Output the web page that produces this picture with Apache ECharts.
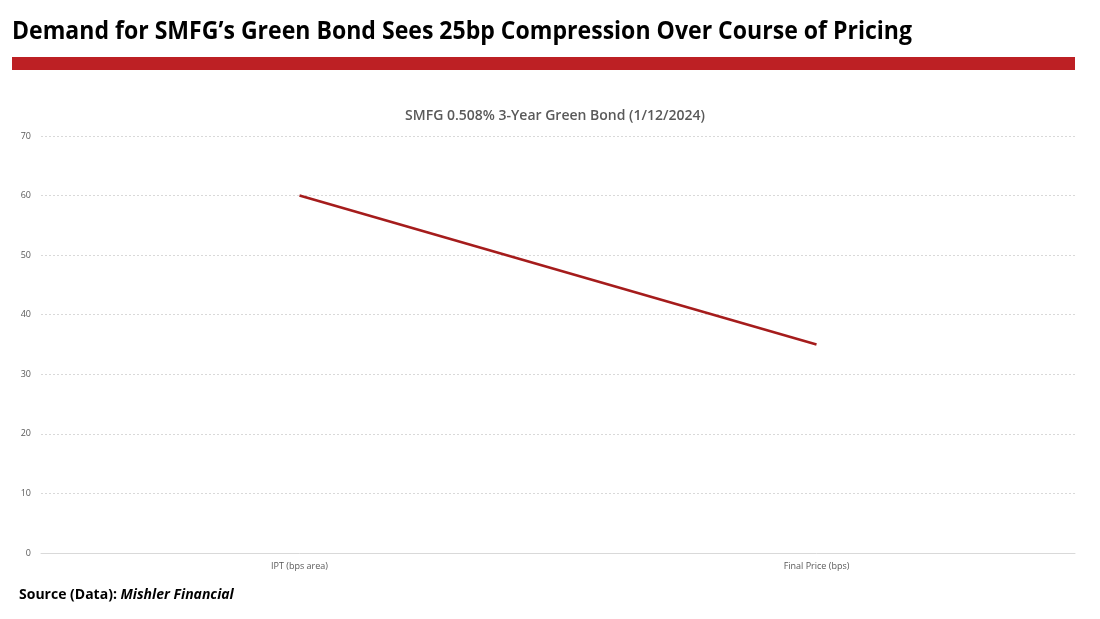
<!DOCTYPE html>
<html>
<head>
<meta charset="utf-8">
<script src="https://cdn.jsdelivr.net/npm/echarts@6/dist/echarts.min.js"></script>
<style>
html, body { margin: 0; padding: 0; background: #fff; }
#chart { width: 1100px; height: 619px; }
</style>
</head>
<body>
<div id="chart"></div>
<script>
// 数据
var categories = ['IPT (bps area)', 'Final Price (bps)'];
var spreadValues = [60, 35];
var yTicks = [0, 10, 20, 30, 40, 50, 60, 70];

(function () {
	var myChart = echarts.init(document.getElementById('chart'));
	var headline = 'Demand for SMFG\u2019s Green Bond Sees 25bp Compression Over Course of Pricing';
	var headFont = 'bold 25px "Open Sans"';
	// 把标题压窄到参考图的宽度
	var ctx = document.createElement('canvas').getContext('2d');
	ctx.font = headFont;
	var headScale = 900 / ctx.measureText(headline).width;

	var option = {
		backgroundColor: '#fff',
		animation: false,
		title: {
			text: 'SMFG 0.508% 3-Year Green Bond (1/12/2024)',
			left: 550,
			top: 104,
			textAlign: 'center',
			textStyle: {
				fontFamily: 'Open Sans',
				fontSize: 14,
				fontWeight: 600,
				color: '#595959'
			}
		},
		// 大标题、红色横条、来源
		graphic: [
			{
				type: 'text',
				x: 12,
				y: 19,
				scaleX: headScale,
				style: {
					text: headline,
					font: headFont,
					fill: '#000'
				}
			},
			{
				type: 'rect',
				shape: { x: 12, y: 57, width: 1063, height: 13 },
				style: { fill: '#bd2024' }
			},
			{
				type: 'text',
				left: 19,
				top: 588,
				style: {
					rich: {
						a: { font: 'bold 14px "Open Sans"', fill: '#000' },
						b: { font: 'italic bold 14px "Open Sans"', fill: '#000' }
					},
					text: '{a|Source (Data): }{b|Mishler Financial}'
				}
			}
		],
		grid: {
			left: 41,
			right: 25,
			top: 136,
			bottom: 66
		},
		xAxis: {
			type: 'category',
			data: categories,
			axisTick: { show: false },
			axisLine: { lineStyle: { color: '#d9d9d9', width: 1 } },
			axisLabel: {
				color: '#595959',
				fontSize: 9,
				fontFamily: 'Open Sans',
				margin: 9
			}
		},
		yAxis: {
			type: 'value',
			min: yTicks[0],
			max: yTicks[yTicks.length - 1],
			interval: 10,
			axisLine: { show: false },
			axisTick: { show: false },
			axisLabel: {
				color: '#595959',
				fontSize: 9,
				fontFamily: 'Open Sans',
				margin: 10
			},
			splitLine: {
				lineStyle: { color: '#d9d9d9', type: [2, 2] }
			}
		},
		series: [{
			name: 'Spread',
			type: 'line',
			data: spreadValues,
			symbol: 'none',
			lineStyle: { color: '#a51c1c', width: 2.5 }
		}]
	};
	myChart.setOption(option);
})();
</script>
</body>
</html>
